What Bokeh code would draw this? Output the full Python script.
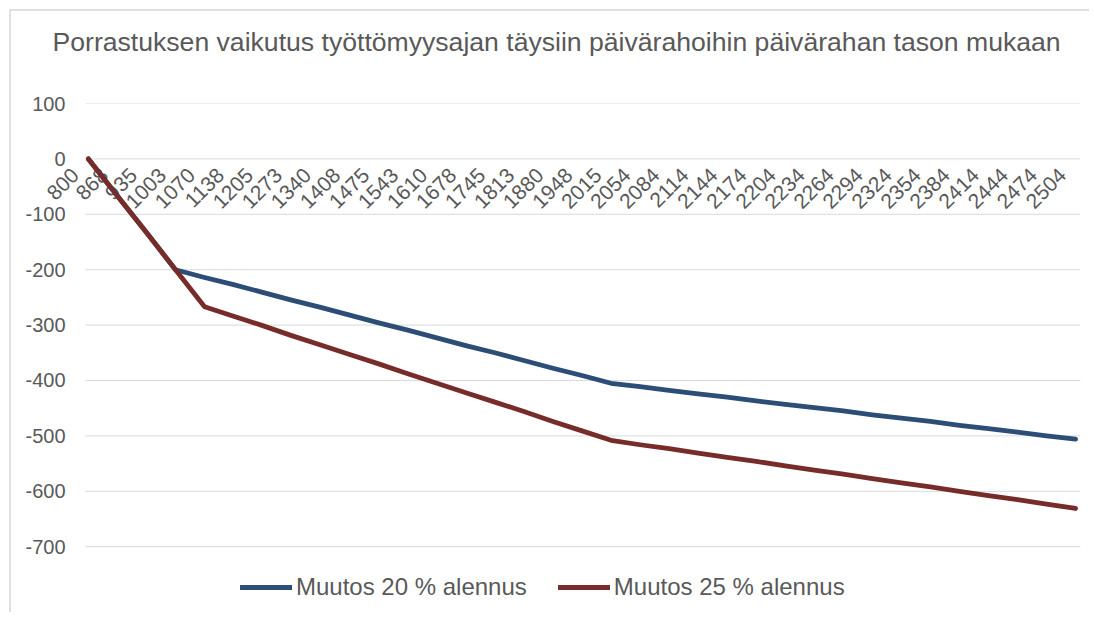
import math
from bokeh.plotting import figure
from bokeh.models import (Range1d, FixedTicker, Legend, LegendItem, Title, LabelSet,
                          ColumnDataSource)
from bokeh.core.properties import value
from bokeh.embed import file_html
from bokeh.resources import INLINE

categories = ["800", "868", "935", "1003", "1070", "1138", "1205", "1273", "1340", "1408",
              "1475", "1543", "1610", "1678", "1745", "1813", "1880", "1948", "2015", "2054",
              "2084", "2114", "2144", "2174", "2204", "2234", "2264", "2294", "2324", "2354",
              "2384", "2414", "2444", "2474", "2504"]

muutos_20 = [0, -67, -133, -200, -214, -227, -241, -255, -268, -282,
             -296, -309, -323, -337, -350, -364, -378, -391, -405, -411,
             -418, -424, -430, -437, -443, -449, -455, -462, -468, -474,
             -481, -487, -493, -500, -506]

muutos_25 = [0, -67, -133, -200, -267, -284, -301, -319, -336, -353,
             -370, -388, -405, -422, -439, -456, -474, -491, -508, -516,
             -523, -531, -539, -546, -554, -562, -569, -577, -585, -592,
             -600, -608, -615, -623, -631]

y_ticks = [100, 0, -100, -200, -300, -400, -500, -600, -700]
y_tick_labels = ["100", "0", "-100", "-200", "-300", "-400", "-500", "-600", "-700"]

title_text = "Porrastuksen vaikutus työttömyysajan täysiin päivärahoihin päivärahan tason mukaan"
series_names = ["Muutos 20 % alennus", "Muutos 25 % alennus"]
colors = ["#2C4D75", "#772C2A"]

FONT = "Liberation Sans"
TXT = "#595959"

idx = list(range(len(categories)))

# layout constants (plot-area extents in x units)
GRID_X0 = -0.1
GRID_X1 = len(categories) - 1 + 0.17
X_START = GRID_X0 - 2.067  # room on the left for the first rotated label

p = figure(width=1080, height=603, output_backend="svg", toolbar_location=None,
           x_range=Range1d(X_START, GRID_X1), y_range=Range1d(-817, 100),
           x_axis_location=None, min_border_left=14, min_border_right=11,
           min_border_top=92, min_border_bottom=3)
p.margin = (11, 0, 0, 11)
p.styles = {"box-shadow": "-2px -2px 0 0 #e0e0e0"}
p.outline_line_color = None
p.background_fill_color = "white"
p.border_fill_color = "white"

# spacer (closest to frame) then the real title above it
spacer = Title(text=" ", text_font_size="10px", standoff=34)
p.add_layout(spacer, "above")
main_title = Title(text=title_text, align="left", offset=27, text_font=FONT,
                   text_font_size="26.6px", text_color=TXT, text_font_style="normal",
                   standoff=0)
p.add_layout(main_title, "above")

p.xgrid.visible = False
p.ygrid.visible = False
grid = p.segment(x0=[GRID_X0] * len(y_ticks), x1=[GRID_X1] * len(y_ticks),
                 y0=y_ticks, y1=y_ticks, line_color="#d9d9d9", line_width=1)
grid.level = "underlay"

ya = p.yaxis[0]
ya.ticker = FixedTicker(ticks=y_ticks)
ya.major_label_overrides = {t_: l_ for t_, l_ in zip(y_ticks, y_tick_labels)}
ya.axis_line_color = None
ya.major_tick_line_color = None
ya.minor_tick_line_color = None
ya.major_tick_out = 0
ya.major_tick_in = 0
ya.major_label_standoff = -40
ya.major_label_text_font = FONT
ya.major_label_text_font_size = "20px"
ya.major_label_text_color = TXT

# category labels along the y=0 axis
lab_src = ColumnDataSource(dict(x=idx, y=[0] * len(idx), text=categories))
labels = LabelSet(x="x", y="y", text="text", source=lab_src, angle=math.pi / 4,
                  text_align="right", text_baseline="middle", x_offset=-13, y_offset=-13,
                  text_font=value(FONT), text_font_size=value("21px"), text_color=TXT)
p.add_layout(labels)

r1 = p.line(idx, muutos_20, line_color=colors[0], line_width=4.8, line_join="round", line_cap="round")
r2 = p.line(idx, muutos_25, line_color=colors[1], line_width=4.8, line_join="round", line_cap="round")
r1.level = "overlay"
r2.level = "overlay"

legend = Legend(items=[LegendItem(label=series_names[0], renderers=[r1]),
                       LegendItem(label=series_names[1], renderers=[r2])],
                orientation="horizontal", location=(215, 10),
                label_text_font=FONT, label_text_font_size="24px", label_text_color=TXT,
                glyph_width=52, glyph_height=20, label_standoff=4, spacing=31,
                padding=0, margin=0, border_line_color=None, background_fill_alpha=0)
p.add_layout(legend)

open("out.html", "w").write(file_html(p, INLINE))
